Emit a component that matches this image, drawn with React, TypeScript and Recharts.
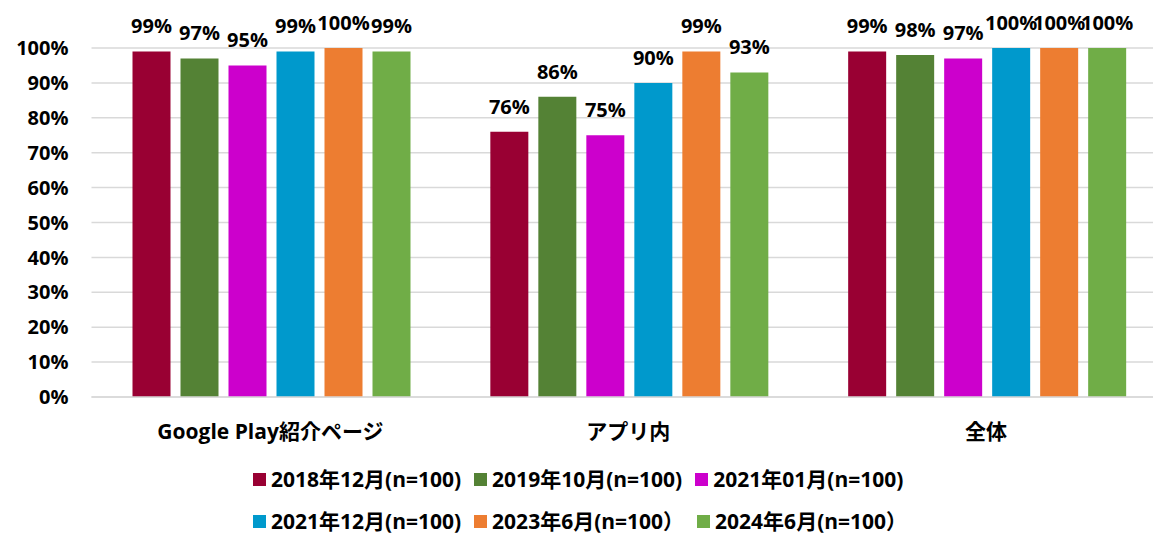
import { BarChart, Bar, XAxis, YAxis, CartesianGrid, LabelList, Legend } from "recharts";

const categories = ["Google Play紹介ページ", "アプリ内", "全体"];
const seriesNames = [
  "2018年12月(n=100)",
  "2019年10月(n=100)",
  "2021年01月(n=100)",
  "2021年12月(n=100)",
  "2023年6月(n=100）",
  "2024年6月(n=100）",
];
const s2018 = [99, 76, 99];
const s2019 = [97, 86, 98];
const s2021a = [95, 75, 97];
const s2021b = [99, 90, 100];
const s2023 = [100, 99, 100];
const s2024 = [99, 93, 100];
const yTicks = [0, 10, 20, 30, 40, 50, 60, 70, 80, 90, 100];

const colors = ["#990033", "#548235", "#CC00CC", "#0099CC", "#ED7D31", "#70AD47"];
const allSeries = [s2018, s2019, s2021a, s2021b, s2023, s2024];

const data = categories.map((name, i) => {
  const row: Record<string, number | string> = { name };
  allSeries.forEach((s, k) => {
    row[`s${k}`] = s[i];
  });
  return row;
});

const font = "'Open Sans', 'Noto Sans CJK JP', sans-serif";

function LegendBox() {
  const rows = [seriesNames.slice(0, 3), seriesNames.slice(3)];
  return (
    <div style={{ fontFamily: font, fontWeight: 700, fontSize: 21, color: "#000", lineHeight: "28px" }}>
      {rows.map((row, r) => (
        <div key={r} style={{ display: "flex", columnGap: 13, marginBottom: r === 0 ? 14 : 0 }}>
          {row.map((n) => {
            const i = seriesNames.indexOf(n);
            return (
              <div key={n} style={{ display: "flex", alignItems: "center", whiteSpace: "nowrap" }}>
                <span style={{ width: 13, height: 13, background: colors[i], display: "inline-block", marginRight: 5 }} />
                <span>{n}</span>
              </div>
            );
          })}
        </div>
      ))}
    </div>
  );
}

export default function App() {
  return (
    <div style={{ position: "absolute", left: 0, top: 0, width: 1153, height: 542, overflow: "hidden", background: "#fff" }}>
      <BarChart
        width={1165}
        height={542}
        data={data}
        margin={{ top: 48, right: 0, left: 0, bottom: 85 }}
        barCategoryGap={41}
        barGap={10}
      >
        <CartesianGrid vertical={false} stroke="#d9d9d9" strokeWidth={1.5} />
        <XAxis
          dataKey="name"
          height={60}
          axisLine={{ stroke: "#d9d9d9", strokeWidth: 1.5 }}
          tickLine={false}
          tickSize={0}
          tickMargin={27}
          tick={{ fill: "#000", fontSize: 21, fontWeight: 700, fontFamily: font }}
        />
        <YAxis
          width={91.5}
          domain={[0, 100]}
          ticks={yTicks}
          tickFormatter={(v) => `${v}%`}
          axisLine={false}
          tickLine={false}
          tickSize={0}
          tickMargin={23}
          tick={{ fill: "#000", fontSize: 20, fontWeight: 700, fontFamily: font }}
        />
        <Legend
          layout="horizontal"
          verticalAlign="middle"
          align="center"
          wrapperStyle={{ top: 465, left: 253, width: 760 }}
          content={() => <LegendBox />}
        />
        {allSeries.map((_, k) => (
          <Bar key={k} dataKey={`s${k}`} name={seriesNames[k]} fill={colors[k]} isAnimationActive={false}>
            <LabelList
              dataKey={`s${k}`}
              position="top"
              offset={18}
              formatter={(v: any) => `${v}%`}
              style={{ fill: "#000", fontSize: 20, fontWeight: 700, fontFamily: font }}
            />
          </Bar>
        ))}
      </BarChart>
    </div>
  );
}
